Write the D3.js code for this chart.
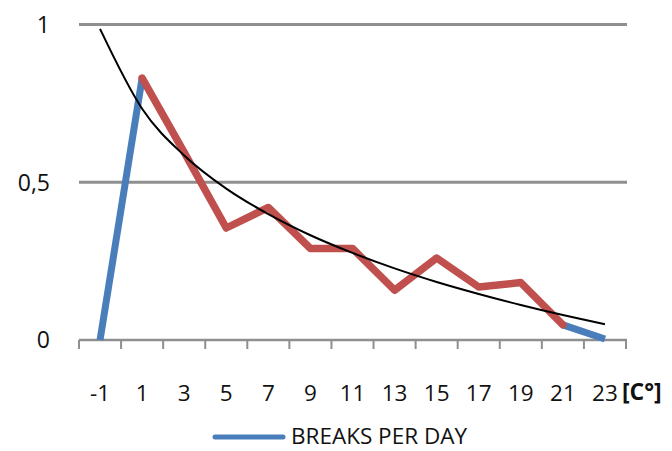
<!DOCTYPE html>
<html>
<head>
<meta charset="utf-8">
<script src="https://cdn.jsdelivr.net/npm/d3@7/dist/d3.min.js"></script>
<style>
  html, body { margin: 0; padding: 0; background: #fff; }
  svg { display: block; }
  text { font-family: "Open Sans", "Noto Sans", sans-serif; fill: #111; }
</style>
</head>
<body>
<svg id="chart" width="672" height="451"></svg>
<script>
// ---- data ----
const categories = ["-1", "1", "3", "5", "7", "9", "11", "13", "15", "17", "19", "21", "23"];
// blue segments (BREAKS PER DAY): start and end pieces
const blueStart = [{ c: "-1", v: 0 }, { c: "1", v: 0.83 }];
const blueEnd = [{ c: "21", v: 0.048 }, { c: "23", v: 0.003 }];
// red middle part
const redCats = ["1", "3", "5", "7", "9", "11", "13", "15", "17", "19", "21"];
const redValues = [0.83, 0.595, 0.355, 0.42, 0.29, 0.29, 0.158, 0.26, 0.168, 0.182, 0.048];
// black trend curve, read at each category
const trendValues = [0.986, 0.733, 0.585, 0.480, 0.399, 0.332, 0.276, 0.227, 0.184, 0.146, 0.111, 0.079, 0.050];
const yTicks = [0, 0.5, 1];
const yTickLabels = ["0", "0,5", "1"];
const unitLabel = "[C°]";
const legendLabel = "BREAKS PER DAY";

// ---- layout ----
const svg = d3.select("#chart");
const mLeft = 79, mRight = 626, mTop = 24.5, mBottom = 340;

const x = d3.scaleBand().domain(categories).range([mLeft, mRight]).padding(0);
const cx = c => x(c) + x.bandwidth() / 2;
const y = d3.scaleLinear().domain([0, 1]).range([mBottom, mTop]);

const gridColor = "#8f8f8f";

// gridlines
svg.append("g").selectAll("line")
  .data(yTicks.filter(t => t > 0))
  .join("line")
  .attr("x1", mLeft).attr("x2", mRight + 1)
  .attr("y1", d => y(d)).attr("y2", d => y(d))
  .attr("stroke", gridColor).attr("stroke-width", 3);

// y labels
svg.append("g").selectAll("text")
  .data(yTicks)
  .join("text")
  .attr("x", 50)
  .attr("y", d => y(d))
  .attr("dy", "0.36em")
  .attr("text-anchor", "end")
  .style("font-size", "23px")
  .text((d, i) => yTickLabels[i]);

// x axis
const xAxis = d3.axisBottom(x).tickSize(9).tickSizeOuter(0).tickFormat("");
const gx = svg.append("g").attr("transform", `translate(0,${mBottom})`).call(xAxis);
gx.select(".domain").remove();
gx.selectAll(".tick").remove();
// axis line
gx.append("line").attr("x1", mLeft).attr("x2", mRight + 1).attr("y1", 0).attr("y2", 0)
  .attr("stroke", gridColor).attr("stroke-width", 2.5);
// ticks at category boundaries
const boundaries = categories.map(c => x(c)).concat([x(categories[categories.length - 1]) + x.bandwidth()]);
gx.selectAll("line.tk").data(boundaries).join("line").attr("class", "tk")
  .attr("x1", d => d).attr("x2", d => d).attr("y1", 0).attr("y2", 9)
  .attr("stroke", gridColor).attr("stroke-width", 2);
// x labels
svg.append("g").selectAll("text")
  .data(categories)
  .join("text")
  .attr("x", d => cx(d))
  .attr("y", 401)
  .attr("text-anchor", "middle")
  .style("font-size", "22.5px")
  .text(d => d);

svg.append("text")
  .attr("x", 622).attr("y", 400)
  .style("font-size", "23px").style("font-weight", "bold")
  .text(unitLabel);

// lines
const line = d3.line().x(d => cx(d.c)).y(d => y(d.v));
const blue = "#4a7ebb", red = "#c0504d";

[blueStart, blueEnd].forEach(seg => {
  svg.append("path").datum(seg).attr("d", line)
    .attr("fill", "none").attr("stroke", blue).attr("stroke-width", 7)
    .attr("stroke-linejoin", "round").attr("stroke-linecap", "butt");
});

const redData = redCats.map((c, i) => ({ c, v: redValues[i] }));
svg.append("path").datum(redData).attr("d", line)
  .attr("fill", "none").attr("stroke", red).attr("stroke-width", 7.5)
  .attr("stroke-linejoin", "round").attr("stroke-linecap", "round");

const trendData = categories.map((c, i) => ({ c, v: trendValues[i] }));
svg.append("path").datum(trendData)
  .attr("d", d3.line().x(d => cx(d.c)).y(d => y(d.v)).curve(d3.curveMonotoneX))
  .attr("fill", "none").attr("stroke", "#000").attr("stroke-width", 2);

// legend
svg.append("line").attr("x1", 215).attr("x2", 283).attr("y1", 437).attr("y2", 437)
  .attr("stroke", blue).attr("stroke-width", 5).attr("stroke-linecap", "round");
svg.append("text").attr("x", 291).attr("y", 444)
  .style("font-size", "22.5px")
  .text(legendLabel);
</script>
</body>
</html>
